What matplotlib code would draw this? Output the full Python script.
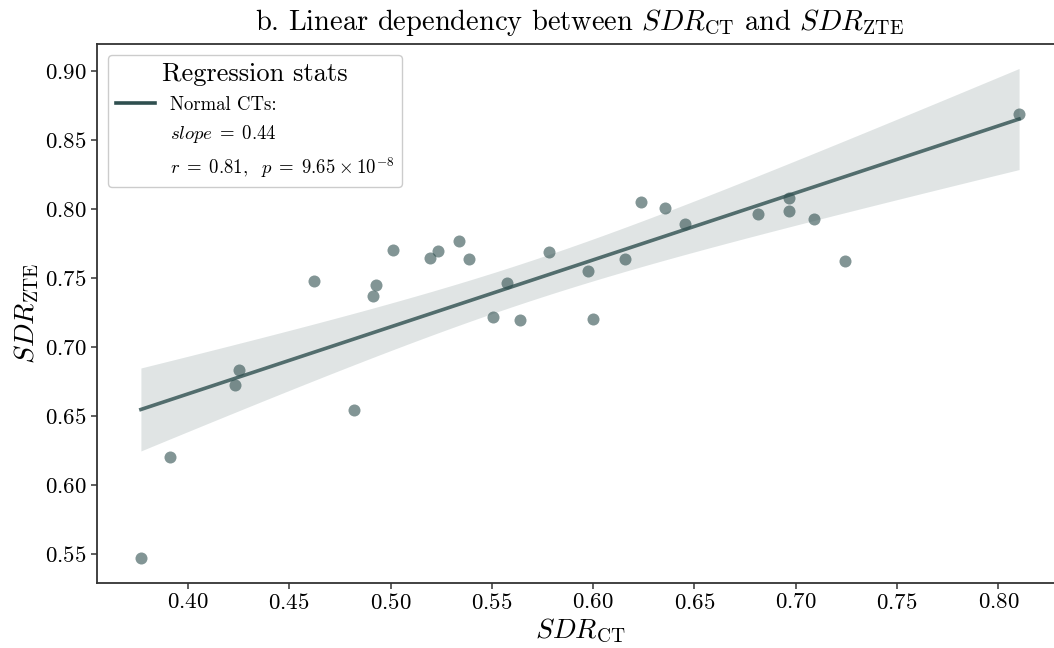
import numpy as np
import matplotlib
matplotlib.use("Agg")
import matplotlib.pyplot as plt
from matplotlib.lines import Line2D

plt.rcParams["font.family"] = "serif"
plt.rcParams["font.serif"] = ["cmr10", "DejaVu Serif"]
plt.rcParams["mathtext.fontset"] = "cm"
plt.rcParams["axes.formatter.use_mathtext"] = True

# SDR values per scan
sdr_ct = [0.3768, 0.3911, 0.4231, 0.4250, 0.4621, 0.4821, 0.4915, 0.4930,
          0.5011, 0.5194, 0.5233, 0.5337, 0.5386, 0.5505, 0.5574, 0.5641,
          0.5782, 0.5975, 0.6001, 0.6157, 0.6236, 0.6356, 0.6451, 0.6815,
          0.6966, 0.6966, 0.7091, 0.7244, 0.8102]
sdr_zte = [0.5469, 0.6201, 0.6722, 0.6833, 0.7476, 0.6546, 0.7367, 0.7447,
           0.7701, 0.7643, 0.7696, 0.7770, 0.7636, 0.7217, 0.7464, 0.7194,
           0.7692, 0.7553, 0.7203, 0.7636, 0.8053, 0.8007, 0.7896, 0.7966,
           0.8085, 0.7991, 0.7930, 0.7625, 0.8691]

stats_title = "Regression stats"
stats_labels = ["Normal CTs:", r"$slope \;=\; 0.44$",
                r"$r \;=\; 0.81,\ \ p \;=\; 9.65 \:\times\: 10^{-8}$"]

color = "darkslategray"

x = np.asarray(sdr_ct)
y = np.asarray(sdr_zte)
n = len(x)

# Ordinary least squares fit with 95% confidence band of the mean
slope, intercept = np.polyfit(x, y, 1)
grid = np.linspace(x.min(), x.max(), 200)
fit = intercept + slope * grid
resid = y - (intercept + slope * x)
s = np.sqrt(np.sum(resid ** 2) / (n - 2))
sxx = np.sum((x - x.mean()) ** 2)
t_crit = 2.052  # t(0.975, df=27)
half = t_crit * s * np.sqrt(1.0 / n + (grid - x.mean()) ** 2 / sxx)

W, H = 1054, 648
fig = plt.figure(figsize=(W / 100, H / 100), dpi=100)
ax = fig.add_axes([97 / W, (H - 582.5) / H, (1063 - 97) / W, (582.5 - 44) / H])

ax.scatter(x, y, s=75, color=color, alpha=0.6, linewidths=0, zorder=3)
ax.plot(grid, fit, color=color, alpha=0.8, lw=2.6, zorder=2)
ax.fill_between(grid, fit - half, fit + half, color=color, alpha=0.15,
                linewidth=0, zorder=1)

ax.margins(0.05)
ax.set_xticks([0.40, 0.45, 0.50, 0.55, 0.60, 0.65, 0.70, 0.75, 0.80])
ax.set_yticks([0.55, 0.60, 0.65, 0.70, 0.75, 0.80, 0.85, 0.90])
ax.tick_params(labelsize=16.5, length=4, width=1.1, colors="#333333",
               labelcolor="black")
for sp in ax.spines.values():
    sp.set_color("#333333")
    sp.set_linewidth(1.3)

ax.set_xlabel(r"$SDR_{\mathrm{CT}}$", fontsize=20, labelpad=3)
ax.set_ylabel(r"$SDR_{\mathrm{ZTE}}$", fontsize=20, labelpad=3)
ax.set_title(r"b. Linear dependency between $SDR_{\mathrm{CT}}$ and $SDR_{\mathrm{ZTE}}$",
             fontsize=20.5, pad=10)

handles = [Line2D([0], [0], color=color, lw=2.6),
           Line2D([0], [0], color="none"),
           Line2D([0], [0], color="none")]
leg = ax.legend(handles, stats_labels, title=stats_title, loc="upper left",
                fontsize=13.5, title_fontsize=19, handlelength=2.1,
                labelspacing=0.5, borderaxespad=0.6, frameon=True,
                fancybox=True, framealpha=1)
leg.get_frame().set_edgecolor("#cccccc")

fig.savefig("out.png", dpi=100)
